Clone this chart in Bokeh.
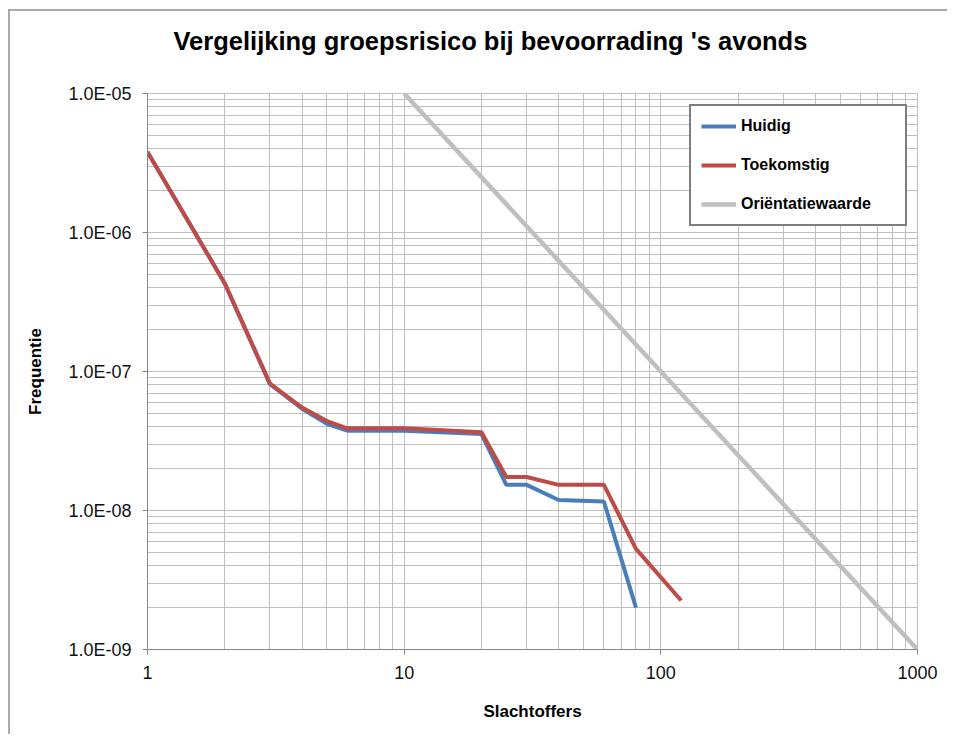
from bokeh.plotting import figure
from bokeh.models import FixedTicker, CustomJSTickFormatter, Legend, LegendItem, Title
from bokeh.embed import file_html
from bokeh.resources import INLINE

# ---- data ----
title_text = "Vergelijking groepsrisico bij bevoorrading 's avonds"
x_label = "Slachtoffers"
y_label = "Frequentie"

huidig_x = [1, 2, 3, 4, 5, 6, 10, 20, 25, 30, 40, 60, 80]
huidig_y = [3.8e-6, 4.3e-7, 8.1e-8, 5.4e-8, 4.2e-8, 3.75e-8, 3.75e-8, 3.55e-8,
            1.53e-8, 1.53e-8, 1.19e-8, 1.16e-8, 2.0e-9]

toekomstig_x = [1, 2, 3, 4, 5, 6, 10, 20, 25, 30, 40, 60, 80, 120]
toekomstig_y = [3.8e-6, 4.3e-7, 8.2e-8, 5.5e-8, 4.4e-8, 3.9e-8, 3.9e-8, 3.65e-8,
                1.74e-8, 1.74e-8, 1.53e-8, 1.53e-8, 5.3e-9, 2.25e-9]

orientatie_x = [10, 1000]
orientatie_y = [1e-5, 1e-9]

series_names = ["Huidig", "Toekomstig", "Oriëntatiewaarde"]

x_ticks = [1, 10, 100, 1000]
y_ticks = [1e-9, 1e-8, 1e-7, 1e-6, 1e-5]

# ---- figure ----
FONT = "Liberation Sans"
GRID = "#bfbfbf"
AXIS = "#868686"

p = figure(x_axis_type="log", y_axis_type="log",
           x_range=(1, 1000), y_range=(1e-9, 1e-5),
           frame_width=770, frame_height=556,
           min_border_left=137, min_border_top=82,
           min_border_right=30, min_border_bottom=85,
           output_backend="svg", toolbar_location=None,
           styles={"margin-left": "8px", "margin-top": "9px",
                   "border-left": "2px solid #aaaaaa",
                   "border-top": "2px solid #aaaaaa"})

p.background_fill_color = "white"
p.border_fill_color = "white"
p.outline_line_color = GRID

# real title in the built-in slot, a blank spacer title between it and the frame
p.title.text = title_text
p.title.align = "left"
p.title.offset = 26
p.title.standoff = 10
p.title.text_font = FONT
p.title.text_font_size = "25.5px"
p.title.text_font_style = "bold"
p.title.text_color = "black"
spacer = Title(text=" ", text_font_size="1px", standoff=31)
p.add_layout(spacer, "above")

# grid (major + minor decades)
x_minor = [m * 10 ** k for k in range(0, 3) for m in range(2, 10)]
y_minor = [m * 10.0 ** k for k in range(-9, -5) for m in range(2, 10)]
p.xgrid.ticker = FixedTicker(ticks=x_ticks, minor_ticks=x_minor)
p.ygrid.ticker = FixedTicker(ticks=y_ticks, minor_ticks=y_minor)
for g in (p.xgrid, p.ygrid):
    g.grid_line_color = GRID
    g.grid_line_width = 1
    g.minor_grid_line_color = GRID
    g.minor_grid_line_width = 1

# axes
p.xaxis.ticker = FixedTicker(ticks=x_ticks)
p.yaxis.ticker = FixedTicker(ticks=y_ticks)
p.xaxis.formatter = CustomJSTickFormatter(code="return String(Math.round(tick));")
p.yaxis.formatter = CustomJSTickFormatter(
    code="return tick.toExponential(1).toUpperCase().replace('E-', 'E-0');")

for ax in (p.xaxis, p.yaxis):
    ax.axis_line_color = AXIS
    ax.axis_line_width = 1
    ax.major_tick_line_color = AXIS
    ax.major_tick_out = 5
    ax.major_tick_in = 0
    ax.minor_tick_line_color = None
    ax.major_label_text_font = FONT
    ax.major_label_text_font_size = "18px"
    ax.major_label_text_color = "#111111"
    ax.axis_label_text_font = FONT
    ax.axis_label_text_font_size = "17px"
    ax.axis_label_text_font_style = "bold"
    ax.axis_label_text_color = "black"

p.xaxis.axis_label = x_label
p.yaxis.axis_label = y_label
p.xaxis.major_label_standoff = 11
p.xaxis.axis_label_standoff = 20
p.yaxis.major_label_standoff = 11
p.yaxis.axis_label_standoff = 20

# series
r_or = p.line(orientatie_x, orientatie_y, line_color="#bfbfbf", line_width=4.5)
r_hu = p.line(huidig_x, huidig_y, line_color="#4a7ebb", line_width=4)
r_to = p.line(toekomstig_x, toekomstig_y, line_color="#be4b48", line_width=4)

legend = Legend(items=[LegendItem(label=series_names[0], renderers=[r_hu]),
                       LegendItem(label=series_names[1], renderers=[r_to]),
                       LegendItem(label=series_names[2], renderers=[r_or])],
                location=(542, 423))
legend.border_line_color = "black"
legend.border_line_width = 2
legend.background_fill_color = "white"
legend.background_fill_alpha = 1
legend.padding = 10
legend.margin = 0
legend.spacing = 19
legend.glyph_width = 35
legend.glyph_height = 20
legend.label_height = 20
legend.label_width = 154
legend.label_standoff = 5
legend.label_text_font = FONT
legend.label_text_font_size = "16px"
legend.label_text_font_style = "bold"
legend.label_text_color = "black"
p.add_layout(legend, "center")

open("out.html", "w").write(file_html(p, INLINE))
